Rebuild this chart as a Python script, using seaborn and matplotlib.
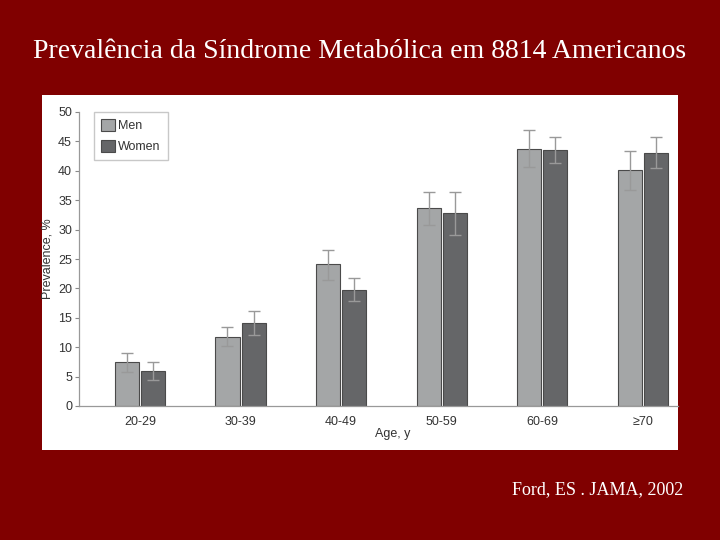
import seaborn as sns
import matplotlib.pyplot as plt
import matplotlib.patches as mpatches
import pandas as pd

# valores (Ford, JAMA 2002)
edades = ["20-29", "30-39", "40-49", "50-59", "60-69", "\u226570"]
hombres = [7.4, 11.8, 24.1, 33.6, 43.7, 40.2]
mujeres = [6.0, 14.2, 19.8, 32.9, 43.6, 43.0]
hombres_lo = [5.8, 10.2, 21.5, 30.7, 40.6, 36.8]
hombres_hi = [9.0, 13.5, 26.5, 36.4, 46.9, 43.4]
mujeres_lo = [4.4, 12.1, 17.8, 29.1, 41.3, 40.4]
mujeres_hi = [7.4, 16.1, 21.7, 36.4, 45.7, 45.7]
sexos = ["Men", "Women"]

df = pd.DataFrame({
    "edad": edades * 2,
    "sexo": [sexos[0]] * len(edades) + [sexos[1]] * len(edades),
    "prev": hombres + mujeres,
    "lo": hombres_lo + mujeres_lo,
    "hi": hombres_hi + mujeres_hi,
})

sns.set_style("white")
plt.rcParams["font.family"] = ["Liberation Sans", "DejaVu Sans"]

fig = plt.figure(figsize=(7.2, 5.4), dpi=100)
fig.patch.set_facecolor("#800000")

# panel blanco de la diapositiva
fig.patches.append(mpatches.Rectangle((42 / 720, 1 - 450 / 540), 636 / 720, 355 / 540,
                                      transform=fig.transFigure, facecolor="white",
                                      edgecolor="none", zorder=-5))

ax = fig.add_axes([79 / 720, 1 - 406 / 540, (678 - 79) / 720, (406 - 112) / 540])
ax.set_facecolor("white")

sns.barplot(data=df, x="edad", y="prev", hue="sexo", order=edades, hue_order=sexos,
            palette=["#a4a6a7", "#646668"], width=0.52, gap=0.08,
            edgecolor="#4a4a4a", linewidth=0.8, errorbar=None, ax=ax)

# barras de error a partir de la posicion de cada barra
for patch_list, sub in zip(ax.containers, sexos):
    d = df[df["sexo"] == sub]
    xs = [p.get_x() + p.get_width() / 2 for p in patch_list]
    ys = d["prev"].values
    err = [ys - d["lo"].values, d["hi"].values - ys]
    ax.errorbar(xs, ys, yerr=err, fmt="none", ecolor="#999999", elinewidth=1,
                capsize=4.5, capthick=1, zorder=5)

ax.set_ylim(0, 50)
ax.set_xlim(-0.606, 5.348)
ax.set_yticks(range(0, 51, 5))
ax.tick_params(axis="y", which="both", left=True, length=3, width=0.8, color="#888888",
               labelsize=9, labelcolor="#333333", pad=2)
ax.tick_params(axis="x", bottom=False, labelsize=9, labelcolor="#333333", pad=4)
ax.set_xlabel("Age, y", fontsize=9, color="#333333")
ax.xaxis.set_label_coords(0.524, -0.075)
ax.set_ylabel("Prevalence, %", fontsize=9, color="#333333", labelpad=3)
sns.despine(ax=ax)
for s in ["left", "bottom"]:
    ax.spines[s].set_color("#999999")
    ax.spines[s].set_linewidth(0.9)

leg = ax.legend(loc="upper left", bbox_to_anchor=(0.025, 1.0), borderaxespad=0,
                fontsize=9, frameon=True, fancybox=False, edgecolor="#bbbbbb",
                handlelength=1.1, handleheight=1.1, handletextpad=0.3,
                borderpad=0.55, labelspacing=0.6, title=None)
for t in leg.get_texts():
    t.set_color("#333333")

fig.text(0.5, 1 - 52 / 540, "Preval\u00eancia da S\u00edndrome Metab\u00f3lica em 8814 Americanos",
         ha="center", va="center", color="white", fontsize=20,
         family=["Liberation Serif", "DejaVu Serif"])
fig.text(683 / 720, 1 - 490 / 540, "Ford, ES . JAMA, 2002", ha="right", va="center",
         color="white", fontsize=13, family=["Liberation Serif", "DejaVu Serif"])

fig.savefig("out.png", dpi=100, facecolor=fig.get_facecolor())
